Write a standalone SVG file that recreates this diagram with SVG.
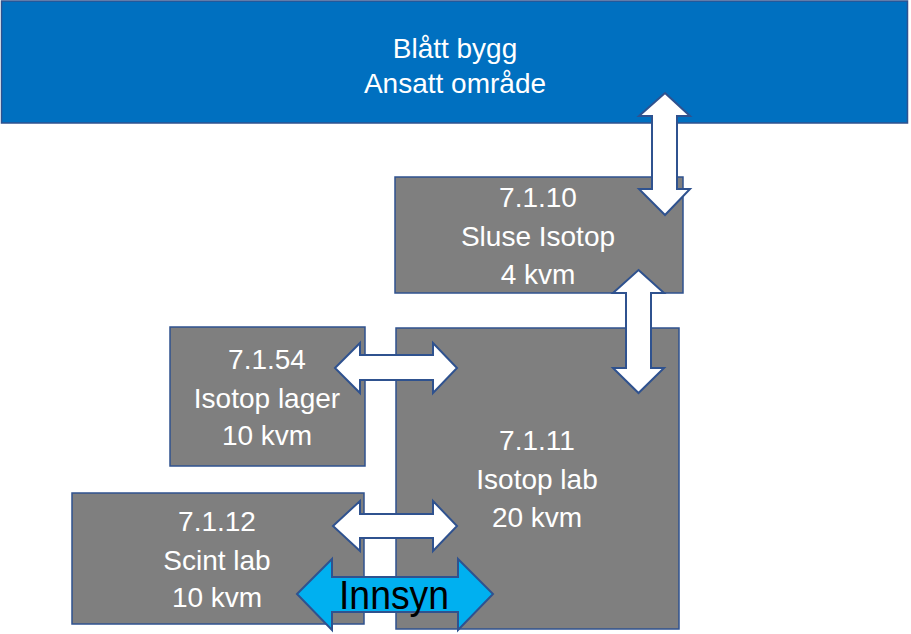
<svg xmlns="http://www.w3.org/2000/svg" width="911" height="634" viewBox="0 0 911 634">
<style>
.box{fill:#7F7F7F;stroke:#2F528F;stroke-width:1.5}
.blue{fill:#0070C0;stroke:#2F528F;stroke-width:1.5}
.lbl{font-family:"Liberation Sans",Arial,sans-serif;font-size:28px;fill:#FFFFFF;text-anchor:middle}
.arr{fill:#FFFFFF;stroke:#2F528F;stroke-width:2;stroke-linejoin:miter}
.cyan{fill:#00B0F0;stroke:#2F528F;stroke-width:2}
.big{font-family:"Liberation Sans",Arial,sans-serif;font-size:40px;fill:#000000;text-anchor:middle}
</style>
<rect width="911" height="634" fill="#FFFFFF"/>
<g id="node-blatt-bygg">
<rect class="blue" x="1.5" y="1" width="906" height="122"/>
<text class="lbl" x="455" y="58">Blått bygg</text>
<text class="lbl" x="455" y="93">Ansatt område</text>
</g>
<g id="node-7-1-10">
<rect class="box" x="395" y="177" width="288" height="116"/>
<text class="lbl" x="538" y="207">7.1.10</text>
<text class="lbl" x="538" y="246">Sluse Isotop</text>
<text class="lbl" x="538" y="284">4 kvm</text>
</g>
<g id="node-7-1-11">
<rect class="box" x="396" y="328" width="283" height="301"/>
<text class="lbl" x="537" y="450">7.1.11</text>
<text class="lbl" x="537" y="489">Isotop lab</text>
<text class="lbl" x="537" y="527">20 kvm</text>
</g>
<g id="node-7-1-54">
<rect class="box" x="170" y="327" width="195" height="139"/>
<text class="lbl" x="267" y="369">7.1.54</text>
<text class="lbl" x="267" y="408">Isotop lager</text>
<text class="lbl" x="267" y="445">10 kvm</text>
</g>
<g id="node-7-1-12">
<rect class="box" x="72" y="493" width="292" height="131"/>
<text class="lbl" x="217" y="531">7.1.12</text>
<text class="lbl" x="217" y="570">Scint lab</text>
<text class="lbl" x="217" y="607">10 kvm</text>
</g>
<g id="connectors">
<polygon class="arr" points="665,93 690,116 677,116 677,189 690,189 665,215 639,189 652,189 652,116 639,116"/>
<polygon class="arr" points="638.5,270 664,293 651,293 651,368 664,368 638.5,393 613,368 626,368 626,293 613,293"/>
<polygon class="arr" points="335,368 360,343 360,355 433,355 433,343 457,368 433,393 433,380 360,380 360,393"/>
<polygon class="arr" points="333,526 360,501 360,514 433,514 433,501 457,526 433,551 433,538 360,538 360,551"/>
<polygon class="cyan" points="297,594 332,559 332,577 458,577 458,559 493,594 458,630 458,612 332,612 332,630"/>
<text class="big" x="394" y="609" textLength="110" lengthAdjust="spacingAndGlyphs">Innsyn</text>
</g>
</svg>
